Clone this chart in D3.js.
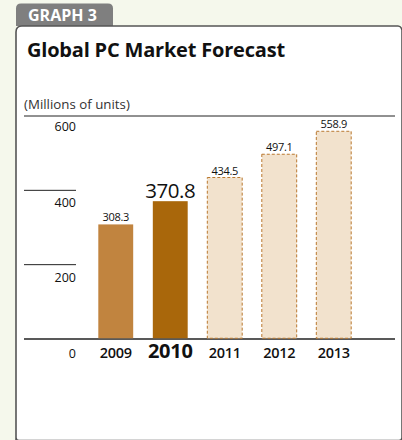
<!DOCTYPE html>
<html>
<head>
<meta charset="utf-8">
<script src="https://cdn.jsdelivr.net/npm/d3@7"></script>
<style>
  html, body { margin: 0; padding: 0; background: #f5f8ec; }
  svg { display: block; }
  text { font-family: "Open Sans", "Noto Sans", sans-serif; }
</style>
</head>
<body>
<svg id="chart" width="402" height="440"></svg>
<script>
// Global PC shipments, millions of units
const years = ["2009", "2010", "2011", "2012", "2013"];
const units = [308.3, 370.8, 434.5, 497.1, 558.9];
const kinds = ["actual", "current", "forecast", "forecast", "forecast"];
const tickValues = [0, 200, 400, 600];

const svg = d3.select("#chart");

// card with tab
const cardL = 16, cardT = 26, cardR = 402, cardB = 440.5, r = 6;
svg.append("path")
  .attr("d", `M${cardL + 5},3.5 h${113 - cardL - 10} q5,0 5,5 v${cardT - 8.5} H${cardL} V8.5 q0,-5 5,-5 Z`)
  .attr("fill", "#7f7f7f");
svg.append("text")
  .attr("x", 28).attr("y", 21)
  .attr("fill", "#fff").attr("font-weight", 700).attr("font-size", 16)
  .text("GRAPH 3");

svg.append("path")
  .attr("d", `M${cardL},${cardB} V${cardT + r} q0,-${r} ${r},-${r} H${cardR - 4} q3,0 4,4 V${cardB - 3} q0,3 -3,3 H${cardL + 3} q-3,0 -3,-3`)
  .attr("fill", "#fff").attr("stroke", "#555").attr("stroke-width", 1.6);

svg.append("text")
  .attr("x", 27).attr("y", 57)
  .attr("fill", "#111").attr("font-weight", 700).attr("font-size", 20)
  .attr("letter-spacing", -0.2)
  .text("Global PC Market Forecast");

svg.append("text")
  .attr("x", 24).attr("y", 109)
  .attr("fill", "#333").attr("font-size", 13.3)
  .text("(Millions of units)");

// scales
const y = d3.scaleLinear().domain([0, 600]).range([339, 116]);
const yLabel = d3.scaleLinear().domain([0, 600]).range([358, 131]);
const x = d3.scaleBand().domain(years).range([88.5, 361]).paddingInner(0.36).paddingOuter(0.18);

// gridlines: full width for 0 and 600, short stubs for the rest
const g = svg.append("g");
g.selectAll("line.tick")
  .data(tickValues)
  .join("line")
  .attr("x1", 24)
  .attr("x2", d => (d === 0 || d === 600) ? 395 : 76)
  .attr("y1", d => y(d)).attr("y2", d => y(d))
  .attr("stroke", "#222").attr("stroke-width", d => d === 0 ? 1.5 : 1);

g.selectAll("text.tick")
  .data(tickValues)
  .join("text")
  .attr("x", 76)
  .attr("y", d => yLabel(d))
  .attr("text-anchor", "end")
  .attr("fill", "#111").attr("font-size", 12.5)
  .text(d => d);

// bars
const fillFor = k => k === "actual" ? "#c1843f" : k === "current" ? "#a9670b" : "#f2e2cd";
const data = years.map((yr, i) => ({ yr, v: units[i], k: kinds[i] }));

svg.append("g").selectAll("rect")
  .data(data)
  .join("rect")
  .attr("x", d => x(d.yr))
  .attr("width", x.bandwidth())
  .attr("y", d => y(d.v))
  .attr("height", d => y(0) - y(d.v) - 0.75)
  .attr("fill", d => fillFor(d.k))
  .attr("stroke", d => d.k === "forecast" ? "#b9782f" : "none")
  .attr("stroke-width", 1)
  .attr("stroke-dasharray", d => d.k === "forecast" ? "3,2" : null);

// value labels
svg.append("g").selectAll("text")
  .data(data)
  .join("text")
  .attr("x", d => x(d.yr) + x.bandwidth() / 2)
  .attr("y", d => y(d.v) - 3)
  .attr("text-anchor", "middle")
  .attr("fill", "#111")
  .attr("font-size", d => d.k === "current" ? 20.5 : 11)
  .attr("letter-spacing", d => d.k === "current" ? -0.5 : -0.3)
  .text(d => d.v.toFixed(1));

// year labels
svg.append("g").selectAll("text")
  .data(data)
  .join("text")
  .attr("x", d => x(d.yr) + x.bandwidth() / 2)
  .attr("y", 358)
  .attr("text-anchor", "middle")
  .attr("fill", "#111")
  .attr("font-weight", d => d.k === "current" ? 700 : 600)
  .attr("font-size", d => d.k === "current" ? 20 : 14.5)
  .attr("letter-spacing", -0.3)
  .text(d => d.yr);
</script>
</body>
</html>
